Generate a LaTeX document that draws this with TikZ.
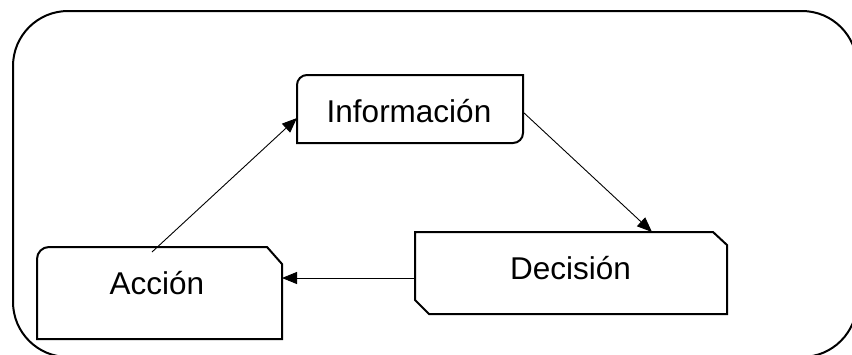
\documentclass[tikz,border=0pt]{standalone}
\usepackage{fontspec}
\setmainfont{Liberation Sans}
\usetikzlibrary{arrows.meta}
\tikzset{
  boxline/.style={draw=black, line width=2pt, line join=miter},
  holder/.style={draw=none, inner sep=0pt, outer sep=0pt},
  lbl/.style={inner sep=0pt, anchor=base, font=\fontsize{31.5}{36}\selectfont},
  arr/.style={draw=black, line width=0.9pt, -{Triangle[length=15pt,width=12pt]}}
}
\begin{document}
\begin{tikzpicture}[x=1pt,y=-1pt]
\useasboundingbox (0,0) rectangle (852,354);
\fill[white] (0,0) rectangle (852,354);
% outer frame
\draw[line width=2pt, rounded corners=55pt] (13,11) rectangle (857,357);
% holder nodes
\node[holder, minimum width=226pt, minimum height=68pt] (info) at (410,109) {};
\node[holder, minimum width=245pt, minimum height=92pt] (acc) at (159.5,293) {};
\node[holder, minimum width=312pt, minimum height=82pt] (dec) at (571,273) {};
% outlines
\draw[boxline] (297,143) -- (297,85) .. controls (297,79.5) and (301.5,75) .. (307,75)
  -- (523,75) -- (523,133) .. controls (523,138.5) and (518.5,143) .. (513,143) -- cycle;
\draw[boxline] (37,339) -- (37,259) .. controls (37,252.4) and (42.4,247) .. (49,247)
  -- (267,247) -- (282,264) -- (282,339) -- cycle;
\draw[boxline] (415,232) -- (713,232) -- (727,245) -- (727,314) -- (429,314) -- (415,300) -- cycle;
% labels
\node[lbl] (infoT) at (409,122) {Información};
\node[lbl] (accT) at (157,294) {Acción};
\node[lbl] (decT) at (570.5,279) {Decisión};
% connectors
\draw[arr] ([xshift=-7.5pt,yshift=-5pt]acc.north) -- ([yshift=-9pt]info.west);
\draw[arr] ([yshift=-3pt]info.east) -- ([xshift=81pt]dec.north);
\draw[arr] ([yshift=-5pt]dec.west) -- ([yshift=-5pt]dec.west -| acc.east);
\end{tikzpicture}
\end{document}
